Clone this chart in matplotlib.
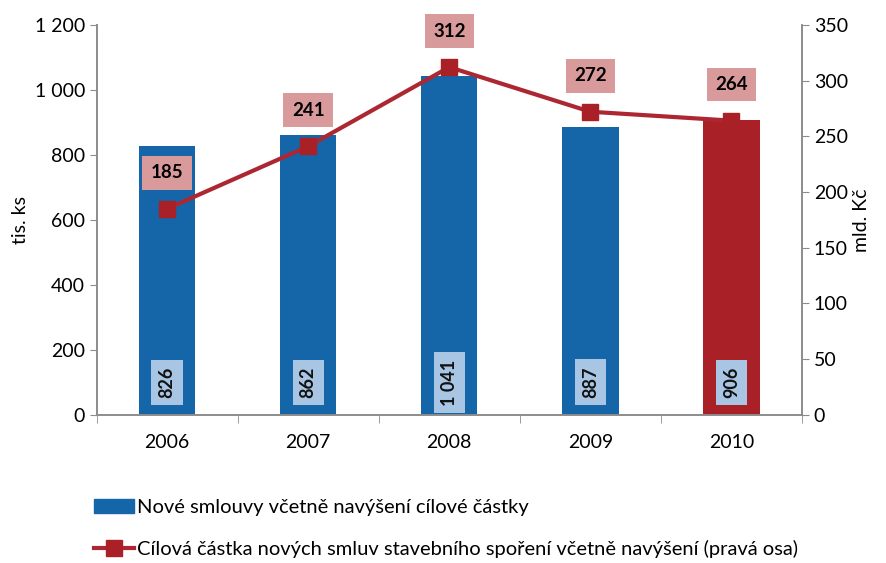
import matplotlib
matplotlib.use("Agg")
import matplotlib.pyplot as plt
import numpy as np
from matplotlib.patches import Patch
from matplotlib.lines import Line2D

years = ["2006", "2007", "2008", "2009", "2010"]
contracts = [826, 862, 1041, 887, 906]          # tis. ks (left axis)
contract_labels = ["826", "862", "1 041", "887", "906"]
amount = [185, 241, 312, 272, 264]              # mld. Kč (right axis)
left_ticks = [0, 200, 400, 600, 800, 1000, 1200]
left_tick_labels = ["0", "200", "400", "600", "800", "1 000", "1 200"]
right_ticks = [0, 50, 100, 150, 200, 250, 300, 350]

BLUE = "#1565a9"
RED = "#a92026"
LINE = "#ad2733"
PINK = "#d99a9b"
LIGHTBLUE = "#a8c6e4"
GREY = "#8c8c8c"

plt.rcParams["font.family"] = ["Lato", "DejaVu Sans"]

fig = plt.figure(figsize=(8.87, 5.63), dpi=100)
ax = fig.add_axes([0.109, 0.263, 0.795, 0.693])
ax2 = ax.twinx()

x = np.arange(len(years))
colors = [BLUE] * 4 + [RED]
ax.bar(x, contracts, width=0.4, color=colors, zorder=2)
for xi, lab in zip(x, contract_labels):
    ax.text(xi, 100, lab, rotation=90, ha="center", va="center", fontsize=13,
            fontweight="bold", color="#111111", zorder=3,
            bbox=dict(boxstyle="square,pad=0.4", fc=LIGHTBLUE, ec="none"))

ax.set_xlim(-0.5, 4.5)
ax.set_ylim(0, 1200)
ax.set_yticks(left_ticks)
ax.set_yticklabels(left_tick_labels)
ax.set_ylabel("tis. ks", fontsize=14)
ax.set_xticks(x)
ax.set_xticklabels(years)
ax.set_xticks(np.arange(-0.5, 5, 1), minor=True)
ax.tick_params(axis="x", which="major", length=0, pad=14, labelsize=14)
ax.tick_params(axis="x", which="minor", length=6, color=GREY)
ax.tick_params(axis="y", length=5, color=GREY, labelsize=14)

ax2.plot(x, amount, color=LINE, lw=3, marker="s", ms=11, mfc=RED, mec=RED, zorder=4)
for xi, v in zip(x, amount):
    ax2.annotate(str(v), (xi, v), xytext=(0, 26), textcoords="offset points",
                 ha="center", va="center", fontsize=13.5, fontweight="bold",
                 bbox=dict(boxstyle="square,pad=0.45", fc=PINK, ec="none"))
ax2.set_ylim(0, 350)
ax2.set_yticks(right_ticks)
ax2.set_ylabel("mld. Kč", fontsize=14)
ax2.tick_params(axis="y", length=5, color=GREY, labelsize=14)

for a in (ax, ax2):
    a.spines["top"].set_visible(False)
    for s in ("left", "right", "bottom"):
        a.spines[s].set_color(GREY)
        a.spines[s].set_linewidth(1.2)
ax.set_zorder(ax2.get_zorder() - 1)
ax2.patch.set_visible(False)

handles = [
    Patch(color=BLUE, label="Nové smlouvy včetně navýšení cílové částky"),
    Line2D([], [], color=LINE, lw=3, marker="s", ms=11, mfc=RED, mec=RED,
           label="Cílová částka nových smluv stavebního spoření včetně navýšení (pravá osa)"),
]
fig.legend(handles=handles, loc="upper left", bbox_to_anchor=(0.097, 0.128),
           ncol=1, frameon=False, fontsize=14.5, handlelength=2.0, handletextpad=0.15,
           labelspacing=1.2, borderaxespad=0)

fig.savefig("out.png", dpi=100)
